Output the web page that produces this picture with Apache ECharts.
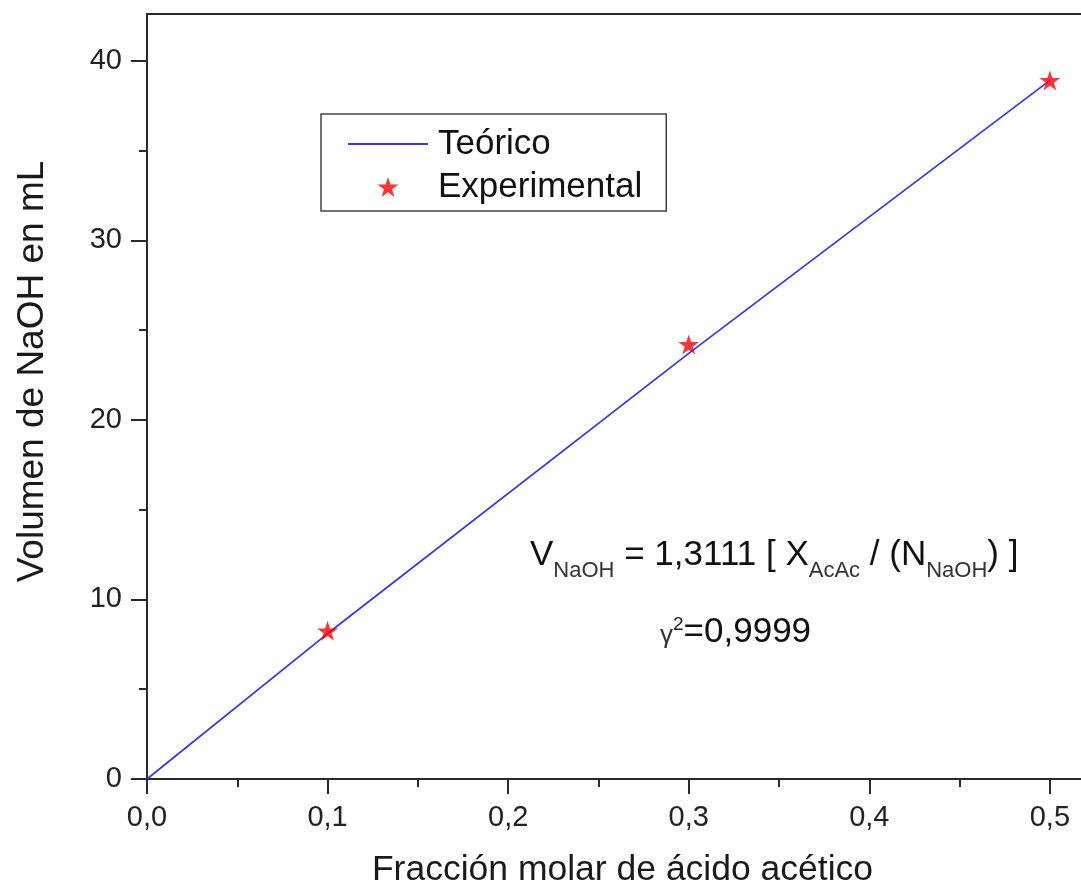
<!DOCTYPE html>
<html>
<head>
<meta charset="utf-8">
<script src="https://cdn.jsdelivr.net/npm/echarts@6/dist/echarts.min.js"></script>
<style>
html,body{margin:0;padding:0;background:#fff;}
#chart{width:1081px;height:886px;}
</style>
</head>
<body>
<div id="chart"></div>
<script>
const xTicks = [0, 0.1, 0.2, 0.3, 0.4, 0.5];
const xMinorTicks = [0.05, 0.15, 0.25, 0.35, 0.45];
const yTicks = [0, 10, 20, 30, 40];
const yMinorTicks = [5, 15, 25, 35];
const teoricoX = [0, 0.1, 0.3, 0.5];
const teoricoY = [0, 8.1, 23.7, 38.9];
const expX = [0.1, 0.3, 0.5];
const expY = [8.25, 24.2, 38.9];
const xName = 'Fracción molar de ácido acético';
const yName = 'Volumen de NaOH en mL';
const legendNames = ['Teórico', 'Experimental'];

const FONT = '"Liberation Sans", Arial, sans-serif';
const AX = '#2a2a2a';
const STAR = 'path://M50,0 L61.2,34.5 L97.6,34.5 L68.2,55.9 L79.4,90.5 L50,69.1 L20.6,90.5 L31.8,55.9 L2.4,34.5 L38.8,34.5 Z';

const chart = echarts.init(document.getElementById('chart'), null, {renderer: 'canvas'});
const option = {
  animation: false,
  backgroundColor: '#ffffff',
  grid: {left: 147, top: 14, right: -5, bottom: 107, show: true, borderColor: AX, borderWidth: 2,
    backgroundColor: 'transparent', containLabel: false, outerBoundsMode: 'none'},
  legend: {
    orient: 'vertical', left: 321, top: 114,
    data: [
      {name: legendNames[0], icon: 'inherit', itemStyle: {opacity: 0}},
      {name: legendNames[1]}
    ],
    itemWidth: 80, itemHeight: 20, itemGap: 3,
    padding: [10, 24, 4, 26],
    borderColor: '#444', borderWidth: 1.5,
    textStyle: {fontFamily: FONT, fontSize: 35, color: '#111', lineHeight: 40, padding: [0, 0, 0, 5]}
  },
  xAxis: [{
    type: 'value', min: 0, max: 0.52,
    name: xName, nameLocation: 'middle', nameGap: 73,
    nameTextStyle: {fontFamily: FONT, fontSize: 35.5, color: '#1a1a1a', padding: [0, 0, 0, 12]},
    axisLine: {show: true, lineStyle: {color: AX, width: 2}},
    axisTick: {show: true, inside: false, length: 15, lineStyle: {color: AX, width: 2}, customValues: xTicks},
    axisLabel: {fontFamily: FONT, fontSize: 29, color: '#222', margin: 24, customValues: xTicks,
      formatter: v => v.toFixed(1).replace('.', ',')},
    splitLine: {show: false}
  }, {
    type: 'value', min: 0, max: 0.52, position: 'bottom',
    axisLine: {show: false},
    axisTick: {show: true, length: 8, lineStyle: {color: AX, width: 2}, customValues: xMinorTicks},
    axisLabel: {show: false},
    splitLine: {show: false}
  }],
  yAxis: [{
    type: 'value', min: 0, max: 42.6,
    name: yName, nameLocation: 'middle', nameGap: 96, nameRotate: 90,
    nameTextStyle: {fontFamily: FONT, fontSize: 37, color: '#1a1a1a', padding: [0, 0, 0, 50]},
    axisLine: {show: true, lineStyle: {color: AX, width: 2}},
    axisTick: {show: true, inside: false, length: 16, lineStyle: {color: AX, width: 2}, customValues: yTicks},
    axisLabel: {fontFamily: FONT, fontSize: 29, color: '#222', margin: 25, customValues: yTicks},
    splitLine: {show: false}
  }, {
    type: 'value', min: 0, max: 42.6, position: 'left',
    axisLine: {show: false},
    axisTick: {show: true, length: 8, lineStyle: {color: AX, width: 2}, customValues: yMinorTicks},
    axisLabel: {show: false},
    splitLine: {show: false}
  }],
  series: [{
    name: legendNames[0], type: 'line',
    data: teoricoX.map((x, i) => [x, teoricoY[i]]),
    symbol: 'none', smooth: false,
    lineStyle: {color: '#3333ff', width: 1.7},
    itemStyle: {color: '#3333ff'},
    z: 2
  }, {
    name: legendNames[1], type: 'scatter',
    data: expX.map((x, i) => [x, expY[i]]),
    symbol: STAR, symbolSize: 21, symbolKeepAspect: true,
    itemStyle: {color: '#ff0000'},
    z: 3
  }],
  graphic: [{
    type: 'text', left: 530, top: 538, z: 10,
    style: {
      text: '{m|V}{s|NaOH}{m| = 1,3111 [ X}{s|AcAc}{m| / (N}{s|NaOH}{m|) ]}',
      fill: '#111', font: '35px ' + FONT,
      rich: {
        m: {fontFamily: FONT, fontSize: 35, lineHeight: 42, verticalAlign: 'top', fill: '#111'},
        s: {fontFamily: FONT, fontSize: 22, lineHeight: 22, padding: [22, 0, 0, 0], verticalAlign: 'top', fill: '#333'}
      }
    }
  }, {
    type: 'text', left: 660, top: 615, z: 10,
    style: {
      text: '{g|γ}{p|2}{m|=0,9999}',
      fill: '#111', font: '35px ' + FONT,
      rich: {
        g: {fontFamily: FONT, fontSize: 26, lineHeight: 30, padding: [8, 0, 0, 0], verticalAlign: 'top', fill: '#333'},
        p: {fontFamily: FONT, fontSize: 19, lineHeight: 20, padding: [0, 0, 0, 0], verticalAlign: 'top', fill: '#222'},
        m: {fontFamily: FONT, fontSize: 35, lineHeight: 42, padding: [0, 0, 0, 0], verticalAlign: 'top', fill: '#111'}
      }
    }
  }]
};
chart.setOption(option);
</script>
</body>
</html>
